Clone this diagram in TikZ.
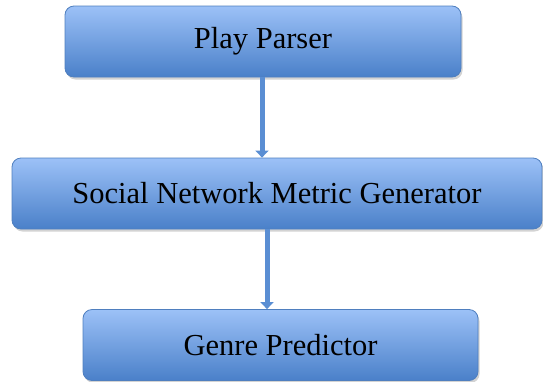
\documentclass[tikz,border=0pt]{standalone}
\usepackage{fontspec}
\setmainfont{Liberation Serif}
\usetikzlibrary{shadows,arrows.meta}
\definecolor{boxtop}{HTML}{9CC1F7}
\definecolor{boxbot}{HTML}{4A80C9}
\definecolor{boxline}{HTML}{4F7FBF}
\definecolor{arrowblue}{HTML}{5A8ED3}

\begin{document}
\begin{tikzpicture}[x=1pt,y=-1pt,
  stage/.style={rectangle,rounded corners=9pt,draw=boxline,line width=0.8pt,
    top color=boxtop,bottom color=boxbot,minimum height=71pt,
    drop shadow={opacity=0.35,shadow xshift=1.5pt,shadow yshift=-2.5pt},
    font=\fontsize{30.5}{36}\selectfont},
  flow/.style={arrowblue,line width=5pt,-{Triangle[width=13pt,length=7pt]}}]
\useasboundingbox (0,0) rectangle (543,381);
\node[stage,minimum width=396pt] (parser) at (263,41.5) {Play Parser};
\node[stage,minimum width=530pt] (metric) at (277,193.5) {Social Network Metric Generator};
\node[stage,minimum width=395pt] (predictor) at (280.5,345) {Genre Predictor};
\draw[flow] ([xshift=-1pt]parser.south) -- ([xshift=-1pt]parser.south |- metric.north);
\draw[flow] ([xshift=-10pt]metric.south) -- ([xshift=-10pt]metric.south |- predictor.north);
\end{tikzpicture}
\end{document}
